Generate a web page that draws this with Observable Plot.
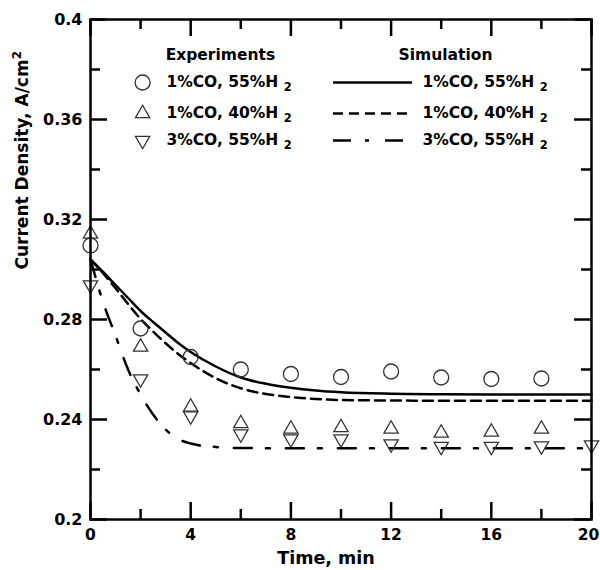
<!DOCTYPE html>
<html><head><meta charset="utf-8">
<script src="https://cdn.jsdelivr.net/npm/d3@7"></script>
<script src="https://cdn.jsdelivr.net/npm/@observablehq/plot@0.6"></script>
<style>body{margin:0;background:#fff}#chart{width:600px;height:570px}</style>
</head><body><div id="chart"></div>
<script>
// ---- data ----
const expTime = [0, 2, 4, 6, 8, 10, 12, 14, 16, 18];
const expTime3 = [0, 2, 4, 6, 8, 10, 12, 14, 16, 18, 20];
const exp1 = [0.3096, 0.2764, 0.2650, 0.2600, 0.2582, 0.2570, 0.2592, 0.2568, 0.2562, 0.2564]; // circles
const exp2 = [0.3142, 0.2690, 0.2450, 0.2384, 0.2362, 0.2368, 0.2362, 0.2346, 0.2350, 0.2362]; // up triangles
const exp3 = [0.2938, 0.2562, 0.2414, 0.2342, 0.2322, 0.2322, 0.2302, 0.2292, 0.2292, 0.2294, 0.2298]; // down triangles

const simTime = [0, 0.5, 1, 1.5, 2, 2.5, 3, 3.5, 4, 5, 6, 7, 8, 9, 10, 12, 14, 16, 18, 20];
const sim1 = [0.304, 0.2990, 0.2938, 0.2886, 0.2834, 0.2790, 0.2748, 0.2706, 0.2670, 0.2612, 0.2568, 0.2543, 0.2527, 0.2516, 0.2509, 0.2503, 0.2501, 0.2500, 0.2500, 0.2500];
const sim2 = [0.304, 0.2985, 0.2925, 0.2862, 0.2802, 0.2752, 0.2705, 0.2662, 0.2626, 0.2565, 0.2525, 0.2502, 0.2490, 0.2482, 0.2478, 0.2476, 0.2475, 0.2475, 0.2475, 0.2475];
const simTime3 = [0, 0.5, 1, 1.5, 2, 2.5, 3, 3.5, 4, 5, 6, 8, 10, 12, 14, 16, 18, 20];
const sim3 = [0.304, 0.2870, 0.2735, 0.2600, 0.2500, 0.2420, 0.2360, 0.2322, 0.2304, 0.2290, 0.2286, 0.2285, 0.2285, 0.2285, 0.2285, 0.2285, 0.2285, 0.2285];

const seriesLabels = ["1%CO, 55%H 2", "1%CO, 40%H 2", "3%CO, 55%H 2"];
const legendHeaders = ["Experiments", "Simulation"];
const xMajor = [0, 4, 8, 12, 16, 20];
const xMinor = [2, 6, 10, 14, 18];
const yMajor = [0.2, 0.24, 0.28, 0.32, 0.36, 0.4];
const yMinor = [0.22, 0.26, 0.30, 0.34, 0.38];
const xLabel = "Time, min";
const yLabel = "Current Density, A/cm^2";

// ---- build tables ----
const ex1 = expTime.map((t, i) => ({t, v: exp1[i]}));
const ex2 = expTime.map((t, i) => ({t, v: exp2[i]}));
const ex3 = expTime3.map((t, i) => ({t, v: exp3[i]}));
const s1 = simTime.map((t, i) => ({t, v: sim1[i]}));
const s2 = simTime.map((t, i) => ({t, v: sim2[i]}));
const s3 = simTime3.map((t, i) => ({t, v: sim3[i]}));

const FONT = "DejaVu Sans";
const INK = "#000";
const MK = "#333";
const dashes = [null, "10,6", "18,14,4,16"];
const rowY = [0.3748, 0.3624, 0.3516];
const headY = 0.3856;

const tickLen = 17, minorLen = 10, frameH = 500, frameW = 501;
const tickStyle = {stroke: INK, strokeWidth: 2.5};
const txt = {fontFamily: FONT, fontWeight: "bold", fill: INK};

const legendMarks = [];
legendMarks.push(Plot.text([legendHeaders[0]], {x: () => 3.0, y: () => headY, text: d => d, textAnchor: "start", fontSize: 15.5, ...txt}));
legendMarks.push(Plot.text([legendHeaders[1]], {x: () => 12.3, y: () => headY, text: d => d, textAnchor: "start", fontSize: 15.5, ...txt}));
legendMarks.push(Plot.text(seriesLabels, {x: () => 3.03, y: (d, i) => rowY[i], text: d => d, textAnchor: "start", fontSize: 15.5, ...txt}));
legendMarks.push(Plot.text(seriesLabels, {x: () => 13.25, y: (d, i) => rowY[i], text: d => d, textAnchor: "start", fontSize: 15.5, ...txt}));
legendMarks.push(Plot.dot([seriesLabels[0]], {x: () => 2.08, y: () => rowY[0], symbol: "circle", r: 7.5, stroke: MK, strokeWidth: 1.3, fill: "none"}));
legendMarks.push(Plot.dot([seriesLabels[1]], {x: () => 2.08, y: () => rowY[1], symbol: "triangle", r: 5.3, stroke: MK, strokeWidth: 1.3, fill: "none"}));
legendMarks.push(Plot.dot([seriesLabels[2]], {x: () => 2.08, y: () => rowY[2], symbol: "triangle", rotate: 180, r: 5.3, stroke: MK, strokeWidth: 1.3, fill: "none"}));
seriesLabels.forEach((lab, i) => {
  legendMarks.push(Plot.ruleY([lab], {y: () => rowY[i], x1: () => 9.7, x2: () => 12.85, stroke: INK, strokeWidth: 2.5, strokeDasharray: dashes[i]}));
});

const plot = Plot.plot({
  width: 600, height: 570,
  marginLeft: 90, marginRight: 9, marginTop: 19, marginBottom: 51,
  style: {fontFamily: FONT, fontWeight: "bold", fontSize: "16px", color: INK, background: "#fff"},
  x: {domain: [0, 20]},
  y: {domain: [0.2, 0.4]},
  marks: [
    // ticks (inward, on all four sides)
    Plot.ruleX(xMajor, {x: d => d, insetTop: frameH - tickLen, ...tickStyle}),
    Plot.ruleX(xMinor, {x: d => d, insetTop: frameH - minorLen, ...tickStyle}),
    Plot.ruleX(xMajor, {x: d => d, insetBottom: frameH - tickLen, ...tickStyle}),
    Plot.ruleX(xMinor, {x: d => d, insetBottom: frameH - minorLen, ...tickStyle}),
    Plot.ruleY(yMajor, {y: d => d, insetRight: frameW - tickLen, ...tickStyle}),
    Plot.ruleY(yMinor, {y: d => d, insetRight: frameW - minorLen, ...tickStyle}),
    Plot.ruleY(yMajor, {y: d => d, insetLeft: frameW - tickLen, ...tickStyle}),
    Plot.ruleY(yMinor, {y: d => d, insetLeft: frameW - minorLen, ...tickStyle}),
    Plot.axisX(xMajor.slice(0, -1), {tickSize: 0, tickPadding: 9, tickFormat: d => String(d), label: null, fontSize: 15.5, ...txt}),
    Plot.axisX(xMajor.slice(-1), {tickSize: 0, tickPadding: 9, tickFormat: d => String(d), label: null, fontSize: 15.5, dx: -3, ...txt}),
    Plot.axisY({ticks: yMajor, tickSize: 0, tickPadding: 8, tickFormat: d => String(+d.toFixed(2)), label: null, fontSize: 16, ...txt}),
    // simulation lines
    Plot.line(s1, {x: "t", y: "v", curve: "monotone-x", stroke: INK, strokeWidth: 2.5}),
    Plot.line(s2, {x: "t", y: "v", curve: "monotone-x", stroke: INK, strokeWidth: 2.5, strokeDasharray: dashes[1]}),
    Plot.line(s3, {x: "t", y: "v", curve: "monotone-x", stroke: INK, strokeWidth: 2.5, strokeDasharray: dashes[2]}),
    // experiments
    Plot.dot(ex1, {x: "t", y: "v", symbol: "circle", r: 7.5, stroke: MK, strokeWidth: 1.3, fill: "none"}),
    Plot.dot(ex2, {x: "t", y: "v", symbol: "triangle", r: 5.3, stroke: MK, strokeWidth: 1.3, fill: "none"}),
    Plot.dot(ex3, {x: "t", y: "v", symbol: "triangle", rotate: 180, r: 5.3, stroke: MK, strokeWidth: 1.3, fill: "none"}),
    ...legendMarks,
    // axis titles
    Plot.text([xLabel], {frameAnchor: "bottom", lineAnchor: "middle", dy: 39, dx: -15, text: d => d, fontSize: 17.5, ...txt}),
    Plot.text([yLabel], {frameAnchor: "left", lineAnchor: "middle", dx: -68, rotate: -90, text: d => d, fontSize: 17, ...txt}),
    Plot.frame({stroke: INK, strokeWidth: 2.5})
  ]
});

// subscripts / superscripts
d3.select(plot).selectAll("text").each(function () {
  const t = this.textContent;
  if (/H 2$/.test(t)) {
    this.textContent = t.slice(0, -1);
    const ts = document.createElementNS("http://www.w3.org/2000/svg", "tspan");
    ts.setAttribute("dy", "4");
    ts.setAttribute("font-size", "11.5");
    ts.textContent = "2";
    this.appendChild(ts);
  } else if (/\^2$/.test(t)) {
    this.textContent = t.slice(0, -2);
    const ts = document.createElementNS("http://www.w3.org/2000/svg", "tspan");
    ts.setAttribute("dy", "-7");
    ts.setAttribute("font-size", "12");
    ts.textContent = "2";
    this.appendChild(ts);
  }
});

document.getElementById("chart").appendChild(plot);
</script>
</body></html>
